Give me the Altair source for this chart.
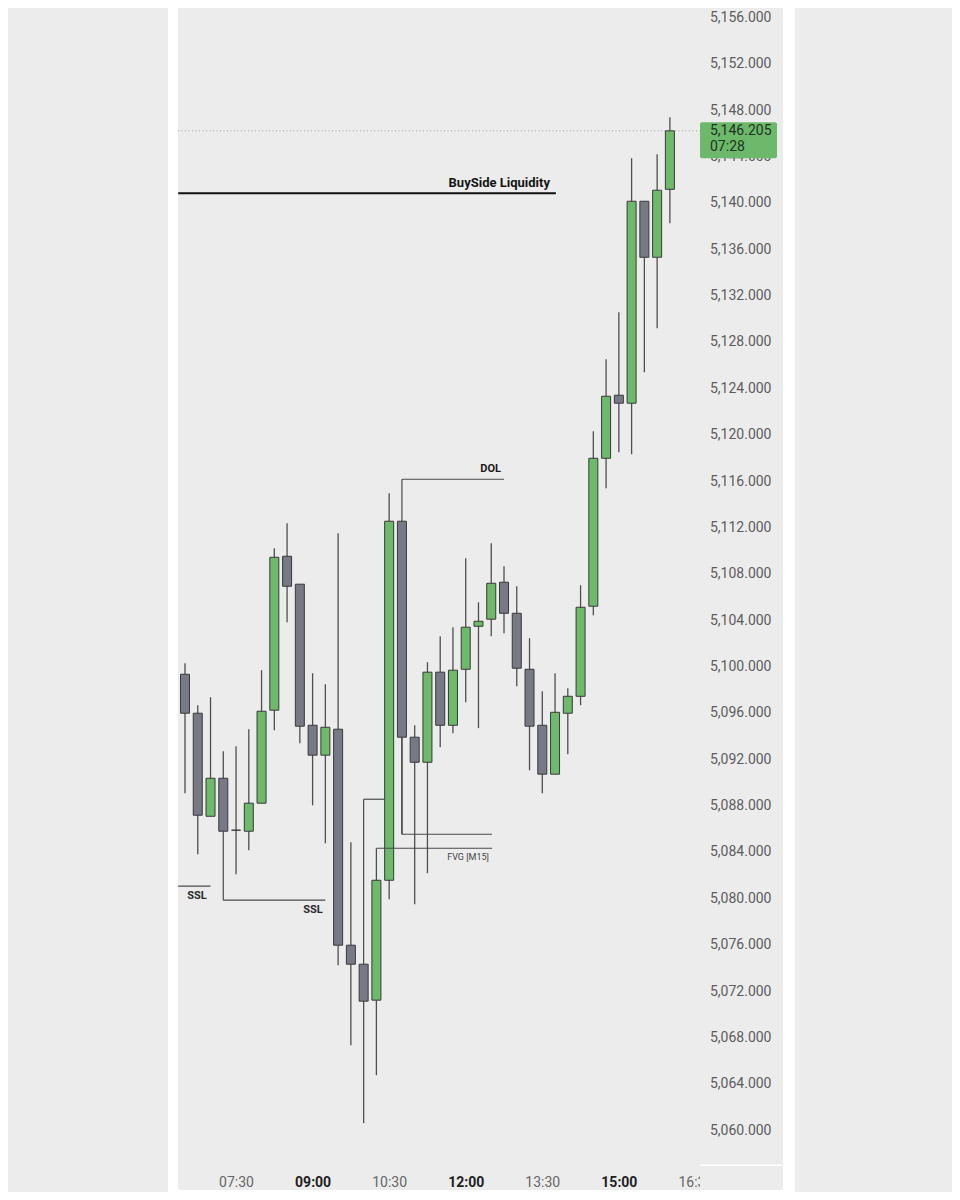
import altair as alt
import pandas as pd

# ---------------- data ----------------
times = ["06:30", "06:45", "07:00", "07:15", "07:30", "07:45", "08:00", "08:15", "08:30", "08:45",
         "09:00", "09:15", "09:30", "09:45", "10:00", "10:15", "10:30", "10:45", "11:00", "11:15",
         "11:30", "11:45", "12:00", "12:15", "12:30", "12:45", "13:00", "13:15", "13:30", "13:45",
         "14:00", "14:15", "14:30", "14:45", "15:00", "15:15", "15:30", "15:45", "16:00"]
opens = [5099.33, 5095.97, 5087.08, 5090.36, 5085.88, 5085.79, 5088.21, 5096.23, 5109.51, 5107.10,
         5094.93, 5092.35, 5094.59, 5075.96, 5074.32, 5071.22, 5081.56, 5112.53, 5093.90, 5091.74,
         5099.51, 5094.93, 5099.76, 5103.47, 5104.08, 5107.27, 5104.59, 5099.76, 5094.93, 5090.71,
         5095.97, 5097.43, 5105.20, 5117.96, 5123.40, 5122.71, 5140.13, 5135.30, 5141.16]
highs = [5100.28, 5096.66, 5097.35, 5092.69, 5093.12, 5094.59, 5099.68, 5110.20, 5112.36, 5107.10,
         5099.42, 5098.47, 5111.49, 5084.84, 5074.32, 5084.32, 5114.94, 5112.53, 5094.93, 5100.37,
         5102.61, 5103.39, 5109.34, 5105.54, 5110.63, 5108.65, 5106.92, 5102.44, 5097.87, 5099.42,
         5098.12, 5107.01, 5120.29, 5126.50, 5130.56, 5143.84, 5140.13, 5144.18, 5147.37]
lows = [5089.07, 5083.81, 5087.08, 5085.79, 5082.08, 5084.15, 5088.21, 5094.50, 5103.82, 5093.38,
        5088.03, 5084.75, 5074.23, 5067.33, 5060.61, 5064.75, 5079.93, 5085.53, 5079.49, 5082.17,
        5093.04, 5094.24, 5096.92, 5094.68, 5102.61, 5102.87, 5098.30, 5091.05, 5089.07, 5090.71,
        5092.43, 5096.66, 5104.42, 5115.38, 5118.48, 5118.31, 5125.38, 5129.18, 5138.23]
closes = [5095.97, 5087.17, 5090.36, 5085.79, 5085.88, 5088.21, 5096.14, 5109.42, 5106.92, 5094.85,
          5092.35, 5094.76, 5075.96, 5074.32, 5071.13, 5081.56, 5112.53, 5093.90, 5091.74, 5099.51,
          5094.93, 5099.68, 5103.39, 5103.90, 5107.18, 5104.59, 5099.85, 5094.85, 5090.71, 5096.05,
          5097.43, 5105.11, 5117.96, 5123.31, 5122.71, 5140.13, 5135.30, 5141.08, 5146.205]

last_price = 5146.205
last_price_text = "5,146.205"
countdown_text = "07:28"

price_ticks = list(range(5060, 5157, 4))
time_ticks = [450, 540, 630, 720, 810, 900, 990]   # minutes after midnight

# annotation segments (minutes, price)
seg_x1 = [645, 645, 645, 645, 615, 600, 600, 382, 435, 435]
seg_x2 = [645, 765, 645, 751, 751, 600, 625, 420, 435, 555]
seg_y1 = [5112.53, 5116.15, 5093.90, 5085.53, 5084.32, 5074.32, 5088.55, 5081.05, 5085.79, 5079.84]
seg_y2 = [5116.15, 5116.15, 5085.53, 5085.53, 5084.32, 5088.55, 5088.55, 5081.05, 5079.84, 5079.84]

bsl_x = [382, 826]
bsl_y = [5140.82, 5140.82]

label_texts = ["BuySide Liquidity", "DOL", "FVG [M15]", "SSL", "SSL"]
label_x = [819, 761.5, 747.3, 404, 540.5]
label_y = [5141.68, 5117.01, 5083.55, 5080.18, 5078.98]

# ---------------- styling ----------------
FONT = "Roboto"
GREEN = "#6dba6b"
GRAY = "#777985"
OUTLINE = "#3a3a3a"
WICK = "#4f4f4f"
BG = "#ececec"

W, H = 522, 1157

def to_min(t):
    h, m = t.split(":")
    return int(h) * 60 + int(m)

candles = pd.DataFrame({"t": times, "open": opens, "high": highs, "low": lows, "close": closes})
candles["m"] = candles["t"].map(to_min)
candles["dir"] = ["up" if c >= o else "down" for o, c in zip(opens, closes)]

xs = alt.Scale(domain=[381.77, 995.4], nice=False, zero=False, padding=0)
ys = alt.Scale(domain=[5057.0, 5156.8], nice=False, zero=False, padding=0)

x_axis = alt.Axis(
    values=time_ticks, orient="bottom", title=None, grid=False, domain=False, ticks=False,
    tickSize=0, labelPadding=17, labelBaseline="middle", labelFlush=False, labelFont=FONT,
    labelFontSize=14,
    labelExpr="(floor(datum.value/60) < 10 ? '0' : '') + floor(datum.value/60) + ':' + "
              "((datum.value % 60) < 10 ? '0' : '') + (datum.value % 60)",
    labelFontWeight={"condition": {"test": "datum.value % 180 == 0", "value": "bold"}, "value": "normal"},
    labelColor={"condition": {"test": "datum.value % 180 == 0", "value": "#1e1e1e"}, "value": "#666666"},
)
y_axis = alt.Axis(
    values=price_ticks, orient="right", title=None, grid=False, domain=False, ticks=False,
    tickSize=0, labelPadding=71, labelAlign="right", labelFlush=False, format=",.3f",
    labelFont=FONT, labelFontSize=14, labelColor="#5c5c5c",
)

def X(f):
    return alt.X(f, type="quantitative", scale=xs, axis=x_axis)

def Y(f):
    return alt.Y(f, type="quantitative", scale=ys, axis=y_axis)

one = pd.DataFrame({"a": [0]})

# background decoration
strip_left = alt.Chart(one).mark_rect(color="#ffffff").encode(
    x=alt.value(-10), x2=alt.value(0), y=alt.value(0), y2=alt.value(1184))
strip_right = alt.Chart(one).mark_rect(color="#ffffff").encode(
    x=alt.value(605), x2=alt.value(617), y=alt.value(0), y2=alt.value(1184))
strip_bottom = alt.Chart(one).mark_rect(color="#ffffff").encode(
    x=alt.value(-10), x2=alt.value(617), y=alt.value(1182), y2=alt.value(1184))

# current price dotted line
lp = pd.DataFrame({"p": [last_price]})
price_line = alt.Chart(lp).mark_rule(color="#98a898", strokeWidth=1, strokeDash=[1, 2.5]).encode(
    y=Y("p"), x=alt.value(0), x2=alt.value(W))

wicks = alt.Chart(candles).mark_rule(color=WICK, strokeWidth=1.3).encode(
    x=X("m"), y=Y("low"), y2="high:Q")
bodies = alt.Chart(candles).mark_bar(width=9, stroke=OUTLINE, strokeWidth=1).encode(
    x=X("m"), y=Y("open"), y2="close:Q",
    color=alt.Color("dir:N", scale=alt.Scale(domain=["up", "down"], range=[GREEN, GRAY]), legend=None))

segs = pd.DataFrame({"x1": seg_x1, "x2": seg_x2, "y1": seg_y1, "y2": seg_y2})
seg_layer = alt.Chart(segs).mark_rule(color="#4a4a4a", strokeWidth=1.2).encode(
    x=X("x1"), x2="x2:Q", y=Y("y1"), y2="y2:Q")

bsl = pd.DataFrame({"x1": [bsl_x[0]], "x2": [bsl_x[1]], "y1": [bsl_y[0]], "y2": [bsl_y[1]]})
bsl_layer = alt.Chart(bsl).mark_rule(color="#111111", strokeWidth=2.2).encode(
    x=X("x1"), x2="x2:Q", y=Y("y1"), y2="y2:Q")

labels = pd.DataFrame({"label": label_texts, "m": label_x, "p": label_y})
styles = [
    dict(align="right", fontSize=13, fontWeight="bold", color="#151515"),
    dict(align="right", fontSize=11, fontWeight="bold", color="#1a1a1a"),
    dict(align="right", fontSize=9, fontWeight="normal", color="#444444"),
    dict(align="center", fontSize=11, fontWeight="bold", color="#2a2a2a"),
    dict(align="center", fontSize=11, fontWeight="bold", color="#2a2a2a"),
]
label_layers = []
for i, st in enumerate(styles):
    label_layers.append(
        alt.Chart(labels.iloc[[i]]).mark_text(baseline="middle", font=FONT, **st).encode(
            x=X("m"), y=Y("p"), text="label:N"))

# price tag on the axis
box = pd.DataFrame({"top": [5146.94], "bot": [5143.84]})
box_layer = alt.Chart(box).mark_rect(color="#6cb96b", cornerRadius=2).encode(
    x=alt.value(522), x2=alt.value(599), y=Y("top"), y2="bot:Q")
tag_txt = pd.DataFrame({"label": [last_price_text, countdown_text], "p": [5146.17, 5144.79]})
tag_layer = alt.Chart(tag_txt).mark_text(align="left", baseline="middle", font=FONT, fontSize=14,
                                         color="#1f3320").encode(
    x=alt.value(532), y=Y("p"), text="label:N")

corner = alt.Chart(one).mark_rect(color=BG).encode(
    x=alt.value(522), x2=alt.value(605), y=alt.value(1158), y2=alt.value(1182))
corner_line = alt.Chart(one).mark_rect(color="#ffffff").encode(
    x=alt.value(522), x2=alt.value(605), y=alt.value(1156.5), y2=alt.value(1158))

chart = alt.layer(
    strip_left, strip_right, strip_bottom, price_line, wicks, bodies, seg_layer, bsl_layer,
    *label_layers, box_layer, tag_layer, corner, corner_line,
).properties(
    width=W, height=H,
    autosize=alt.AutoSizeParams(type="none"),
    padding={"left": 170, "top": 0, "right": 252, "bottom": 27},
    background=BG,
).configure_view(stroke="transparent")

chart.save("out.html", embed_options={"renderer": "svg", "actions": False})
